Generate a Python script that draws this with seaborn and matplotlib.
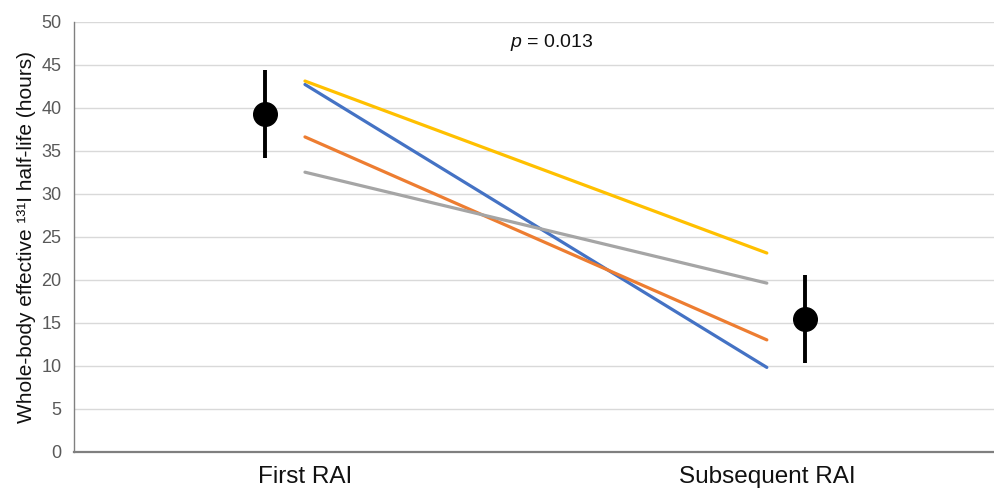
import pandas as pd
import numpy as np
import matplotlib.pyplot as plt
import seaborn as sns

# Data
phases = ["First RAI", "Subsequent RAI"]
patients = ["P1", "P2", "P3", "P4"]
first_rai = [42.7, 36.6, 32.5, 43.1]
subsequent_rai = [9.8, 13.0, 19.6, 23.1]
mean_values = [39.3, 15.4]
sd_values = [5.1, 5.1]
p_label = "$p$ = 0.013"

line_colors = ["#4472C4", "#ED7D31", "#A5A5A5", "#FFC000"]
mean_offset = [-0.087, 0.082]

rows = []
for i, pt in enumerate(patients):
    rows.append({"patient": pt, "pos": 0, "value": first_rai[i]})
    rows.append({"patient": pt, "pos": 1, "value": subsequent_rai[i]})
df = pd.DataFrame(rows)

sns.set_style("white")
plt.rcParams["font.family"] = ["Liberation Sans", "DejaVu Sans"]
plt.rcParams["mathtext.fontset"] = "custom"
plt.rcParams["mathtext.rm"] = "Liberation Sans"
plt.rcParams["mathtext.it"] = "Liberation Sans:italic"

fig = plt.figure(figsize=(9.95, 4.95), dpi=100)
ax = fig.add_axes([0.0744, 0.0875, 0.9256, 0.8687])

# gridlines
ax.set_axisbelow(True)
ax.yaxis.grid(True, color="#d9d9d9", linewidth=1)

sns.lineplot(data=df, x="pos", y="value", hue="patient", palette=line_colors,
             linewidth=2.3, legend=False, ax=ax)

# group means with error bars
mx = [i + off for i, off in enumerate(mean_offset)]
ax.errorbar(mx, mean_values, yerr=sd_values, fmt="o", color="black",
            markersize=17, elinewidth=2.8, capsize=0, zorder=5)

ax.text(0.534, 47.1, p_label, ha="center", va="baseline", fontsize=14,
        color="#111111")

ax.set_xlim(-0.5, 1.494)
ax.set_ylim(0, 50)
ax.set_yticks(np.arange(0, 51, 5))
ax.set_xticks([0, 1])
ax.set_xticklabels(phases, fontsize=17.5, color="#111111")
ax.tick_params(axis="x", length=0, pad=10)
ax.tick_params(axis="y", length=5, width=1, color="#808080", labelsize=13,
               labelcolor="#595959", direction="out", pad=4)
ax.set_xlabel("")
ax.set_ylabel("Whole-body effective \u00b9\u00b3\u00b9I half-life (hours)",
              fontsize=15, color="#111111", labelpad=4)

for s in ["top", "right"]:
    ax.spines[s].set_visible(False)
ax.spines["left"].set_color("#808080")
ax.spines["left"].set_linewidth(1)
ax.spines["bottom"].set_color("#7f7f7f")
ax.spines["bottom"].set_linewidth(1.6)

plt.savefig("out.png", dpi=100)
